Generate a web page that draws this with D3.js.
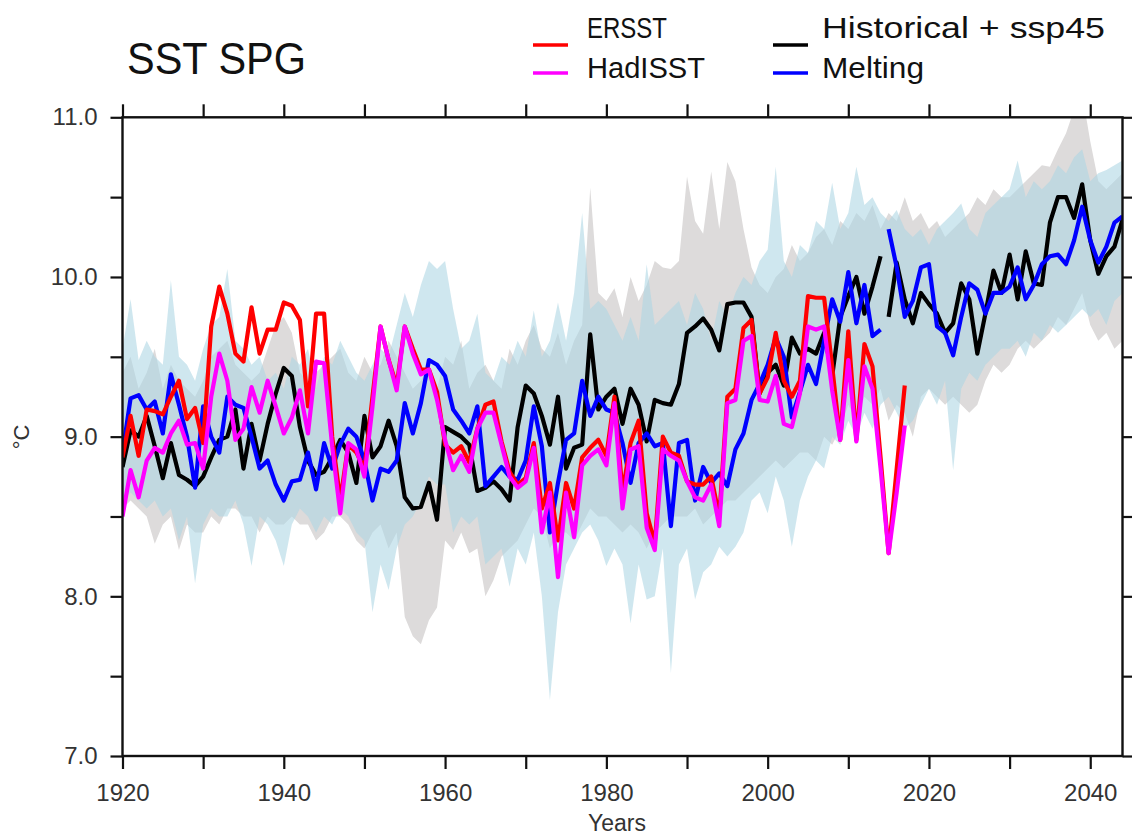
<!DOCTYPE html>
<html><head><meta charset="utf-8">
<script src="https://cdn.jsdelivr.net/npm/d3@7"></script>
<style>
body{margin:0;background:#fff}
svg{display:block}
text{font-family:"Liberation Sans",Arial,Helvetica,sans-serif}
</style>
</head><body>
<svg id="c" width="1132" height="835"></svg>
<script>
// ---------- data ----------
const startYear = 1920;
const endYear = 2044;
const xTicks = [1920,1930,1940,1950,1960,1970,1980,1990,2000,2010,2020,2030,2040];
const xLabels = [1920,1940,1960,1980,2000,2020,2040];
const yTicks = [7.0,7.5,8.0,8.5,9.0,9.5,10.0,10.5,11.0];
const yLabels = [7.0,8.0,9.0,10.0,11.0];
const seriesNames = ["ERSST","HadISST","Historical + ssp45","Melting"];

// ERSST 1920-2017
const ersst = [8.87,9.13,8.88,9.17,9.16,9.14,9.25,9.35,9.11,9.18,
8.96,9.69,9.94,9.77,9.52,9.47,9.81,9.52,9.67,9.67,
9.84,9.82,9.73,9.19,9.77,9.77,9.0,8.6,8.95,8.9,
8.8,9.25,9.69,9.48,9.32,9.69,9.55,9.42,9.42,9.28,
8.95,8.9,8.94,8.84,9.05,9.2,9.22,8.97,8.78,8.7,
8.74,8.96,8.55,8.71,8.35,8.71,8.55,8.87,8.93,8.98,
8.88,9.25,8.65,8.96,9.1,8.52,8.33,9.0,8.9,8.88,
8.72,8.7,8.7,8.75,8.5,9.25,9.3,9.68,9.73,9.27,
9.37,9.65,9.35,9.25,9.35,9.88,9.87,9.87,9.44,8.98,
9.66,8.98,9.58,9.44,8.87,8.27,8.8,9.32];
// HadISST 1920-2017
const hadisst = [8.5,8.79,8.62,8.85,8.93,8.9,9.02,9.1,8.95,8.96,
8.8,9.25,9.52,9.35,8.98,9.05,9.31,9.15,9.35,9.19,
9.02,9.12,9.29,9.02,9.47,9.46,8.94,8.52,8.96,8.92,
8.75,9.19,9.69,9.48,9.29,9.69,9.52,9.39,9.42,9.23,
8.98,8.79,8.88,8.78,9.05,9.15,9.15,8.95,8.75,8.68,
8.72,8.93,8.4,8.65,8.12,8.65,8.37,8.82,8.88,8.92,
8.82,9.21,8.55,8.92,8.94,8.43,8.29,8.92,8.88,8.85,
8.72,8.62,8.6,8.7,8.44,9.21,9.23,9.6,9.63,9.23,
9.22,9.38,9.08,9.06,9.27,9.69,9.67,9.69,9.29,8.98,
9.48,8.97,9.44,9.3,8.8,8.27,8.65,9.07];
// Historical 1920-2014
const histA = [8.81,9.04,9.0,9.13,8.94,8.74,8.96,8.76,8.73,8.69,
8.75,8.87,8.98,9.0,9.17,8.8,9.08,8.85,9.08,9.27,
9.43,9.38,9.06,8.85,8.76,8.78,8.87,8.98,8.9,8.71,
9.13,8.87,8.94,9.1,8.94,8.62,8.55,8.56,8.71,8.48,
9.06,9.03,9.0,8.95,8.66,8.68,8.72,8.67,8.6,9.06,
9.32,9.27,9.13,8.95,9.25,8.8,8.93,8.95,9.64,9.17,
9.25,9.3,9.08,9.3,9.2,8.97,9.23,9.21,9.2,9.33,
9.65,9.69,9.74,9.67,9.54,9.83,9.84,9.84,9.75,9.27,
9.4,9.45,9.32,9.62,9.52,9.55,9.52,9.65,9.38,9.75,
9.88,10.0,9.77,9.94,10.13];
// ssp45 2015-2044
const histB = [9.75,10.09,9.86,9.71,9.9,9.83,9.77,9.65,9.71,9.96,
9.86,9.52,9.77,10.04,9.9,10.14,9.86,10.16,9.96,9.95,
10.34,10.5,10.5,10.37,10.58,10.23,10.02,10.13,10.19,10.36];
// Melting 1920-2014
const meltA = [8.9,9.24,9.26,9.17,9.22,9.02,9.39,9.2,9.0,8.68,
9.19,9.0,8.9,9.25,9.2,9.18,9.0,8.8,8.85,8.7,
8.6,8.72,8.73,8.9,8.67,8.96,8.8,8.95,9.05,9.0,
8.85,8.6,8.8,8.78,8.85,9.21,9.02,9.21,9.48,9.45,
9.38,9.17,9.1,9.02,9.19,8.69,8.75,8.81,8.75,8.73,
8.85,9.19,8.94,8.4,8.71,8.98,9.02,9.35,9.13,9.25,
9.17,9.15,8.96,8.71,8.96,9.02,8.94,8.96,8.44,8.96,
8.98,8.6,8.81,8.71,8.77,8.69,8.92,9.02,9.23,9.33,
9.45,9.62,9.5,9.12,9.28,9.45,9.33,9.6,9.86,9.72,
10.03,9.71,9.95,9.63,9.67];
// Melting 2015-2044
const meltB = [10.3,10.06,9.75,9.85,10.06,10.08,9.69,9.65,9.51,9.75,
9.96,9.92,9.77,9.9,9.9,9.94,10.06,9.86,9.95,10.08,
10.13,10.14,10.08,10.23,10.44,10.23,10.09,10.19,10.34,10.38];

// spread bands 1920-2044
const grayHi = [9.4,9.5,9.3,9.4,9.55,9.3,9.45,9.35,9.3,9.25,
9.35,9.5,9.55,9.6,9.45,9.4,9.35,9.4,9.55,9.7,
9.75,9.65,9.4,9.35,9.4,9.45,9.5,9.55,9.4,9.35,
9.5,9.4,9.45,9.6,9.5,9.4,9.3,9.35,9.45,9.3,
9.5,9.45,9.6,9.3,9.4,9.45,9.35,9.3,9.55,9.45,
9.6,9.7,9.55,9.5,9.65,9.45,9.6,9.7,10.56,9.9,
9.85,9.93,9.75,10.0,9.85,9.95,10.1,10.06,10.05,10.1,
10.63,10.35,10.27,10.66,10.3,10.72,10.6,10.3,10.06,9.95,
9.9,10.0,10.05,10.2,10.1,10.15,10.25,10.3,10.2,10.35,
10.3,10.4,10.35,10.45,10.3,10.4,10.35,10.5,10.35,10.4,
10.3,10.35,10.25,10.3,10.35,10.4,10.5,10.45,10.55,10.5,
10.5,10.55,10.6,10.65,10.7,10.69,10.8,10.9,11.05,11.15,
10.85,10.6,10.55,10.6,10.65];
const grayLo = [8.55,8.6,8.55,8.5,8.33,8.45,8.5,8.29,8.45,8.4,
8.4,8.5,8.45,8.55,8.55,8.5,8.5,8.4,8.5,8.45,
8.45,8.5,8.45,8.45,8.35,8.4,8.5,8.5,8.45,8.35,
8.3,8.4,8.45,8.3,8.4,7.87,7.75,7.7,7.85,7.93,
8.35,8.29,8.4,8.27,8.3,8.0,8.1,8.25,8.3,8.35,
8.45,8.55,8.5,8.3,8.4,8.4,8.35,8.45,8.55,8.5,
8.5,8.45,8.4,8.45,8.4,8.3,8.4,8.45,8.5,8.5,
8.5,8.55,8.45,8.5,8.55,8.6,8.6,8.65,8.7,8.75,
8.8,8.85,8.8,8.85,8.9,8.9,8.85,9.0,8.95,9.05,
9.2,9.1,9.25,9.2,9.3,9.1,9.2,9.15,9.0,9.25,
9.3,9.25,9.2,9.25,9.2,9.15,9.2,9.35,9.45,9.4,
9.45,9.55,9.6,9.55,9.6,9.65,9.75,9.7,9.8,9.9,
9.7,9.6,9.65,9.55,9.6];
const blueHi = [9.55,9.86,9.48,9.6,9.5,9.45,9.98,9.5,9.45,9.35,
9.55,9.7,9.75,10.05,9.6,9.55,9.45,9.5,9.35,9.4,
9.3,9.5,9.45,9.55,9.3,9.5,9.45,9.6,9.5,9.4,
9.35,9.45,9.55,9.5,9.7,9.9,9.75,9.95,10.1,10.05,
10.1,9.8,9.55,9.6,9.77,9.4,9.35,9.5,9.45,9.6,
9.5,9.79,9.5,9.6,9.84,9.6,9.9,10.4,9.8,9.85,
9.8,9.7,9.6,9.75,9.6,10.08,9.7,9.75,9.8,9.85,
9.7,9.9,9.8,9.6,9.85,9.75,9.9,10.0,9.95,10.1,
10.17,10.69,10.1,10.0,10.2,10.15,10.35,10.3,10.59,10.3,
10.4,10.69,10.45,10.5,10.4,10.35,10.42,10.3,10.25,10.3,
10.2,10.3,10.35,10.4,10.46,10.3,10.25,10.4,10.45,10.5,
10.55,10.73,10.5,10.6,10.55,10.6,10.7,10.65,10.75,10.8,
10.6,10.65,10.67,10.7,10.73];
const blueLo = [8.6,8.65,8.6,8.55,8.6,8.5,8.55,8.35,8.5,8.08,
8.45,8.55,8.5,8.5,8.6,8.45,8.19,8.5,8.45,8.35,
8.19,8.45,8.55,8.5,8.4,8.5,8.45,8.55,8.5,8.4,
8.35,7.9,8.2,8.04,8.3,8.45,8.5,8.6,8.75,8.7,
8.7,8.4,8.5,8.45,8.5,8.2,8.25,8.3,8.06,8.3,
8.2,8.4,8.0,7.35,7.9,8.2,8.3,8.4,8.45,8.35,
8.19,8.3,8.2,7.83,8.2,7.98,8.0,8.3,7.52,8.2,
8.3,7.98,8.15,8.2,8.31,8.25,8.31,8.4,8.6,8.65,
8.52,8.75,8.6,8.31,8.6,8.75,8.85,8.8,9.0,8.95,
9.1,9.0,9.15,9.05,9.2,9.25,9.15,9.05,9.1,9.2,
9.3,9.2,9.35,8.79,9.3,9.4,9.35,9.45,9.5,9.55,
9.55,9.6,9.5,9.65,9.6,9.7,9.65,9.7,9.75,9.8,
9.75,9.8,9.7,9.85,9.9];

// ---------- drawing ----------
const svg = d3.select("#c");
const x = d3.scaleLinear().domain([startYear, endYear]).range([122.5, 1122.5]);
const y = d3.scaleLinear().domain([7, 11]).range([756, 117.3]);
const font = '"Liberation Sans",Arial,Helvetica,sans-serif';

svg.append("defs").append("clipPath").attr("id","plot")
  .append("rect").attr("x",x(startYear)).attr("y",y(11))
  .attr("width",x(endYear)-x(startYear)).attr("height",y(7)-y(11));

const years = d3.range(startYear, endYear + 1);
function band(lo, hi){ return years.map((yr,i)=>({yr, lo:lo[i], hi:hi[i]})); }
const area = d3.area().x(d=>x(d.yr)).y0(d=>y(d.lo)).y1(d=>y(d.hi));

const g = svg.append("g").attr("clip-path","url(#plot)");
g.append("path").datum(band(grayLo, grayHi)).attr("d", area)
  .attr("fill","rgb(221,219,219)");
g.append("path").datum(band(blueLo, blueHi)).attr("d", area)
  .attr("fill","rgb(172,214,228)").attr("fill-opacity",0.58);

function series(vals, y0){ return vals.map((v,i)=>({yr:y0+i, v})); }
const line = d3.line().x(d=>x(d.yr)).y(d=>y(d.v));
const lines = [
  {d:series(histA,1920), c:"#000000"},
  {d:series(histB,2015), c:"#000000"},
  {d:series(meltA,1920), c:"#0000ff"},
  {d:series(meltB,2015), c:"#0000ff"},
  {d:series(ersst,1920), c:"#ff0000"},
  {d:series(hadisst,1920), c:"#ff00ff"}
];
lines.forEach(s=>{
  g.append("path").datum(s.d).attr("d", line)
   .attr("fill","none").attr("stroke", s.c).attr("stroke-width",4.2)
   .attr("stroke-linejoin","round");
});

// axes
const axisColor = "#111";
function styleAxis(sel, withLabels){
  sel.select(".domain").remove();
  sel.selectAll(".tick line").attr("stroke",axisColor).attr("stroke-width",2.2);
  sel.selectAll(".tick text").attr("fill","#333").attr("font-size",24).attr("font-family",font);
  if(!withLabels) sel.selectAll(".tick text").remove();
}
svg.append("g").attr("transform",`translate(0,${y(7)})`)
  .call(d3.axisBottom(x).tickValues(xTicks).tickSize(13).tickPadding(15)
    .tickFormat(d=> xLabels.includes(d) ? String(d) : ""))
  .call(s=>styleAxis(s,true));
svg.append("g").attr("transform",`translate(0,${y(11)})`)
  .call(d3.axisTop(x).tickValues(xTicks).tickSize(13))
  .call(s=>styleAxis(s,false));
svg.append("g").attr("transform",`translate(${x(startYear)},0)`)
  .call(d3.axisLeft(y).tickValues(yTicks).tickSize(12).tickPadding(13)
    .tickFormat(d=> yLabels.includes(d) ? d3.format(".1f")(d) : ""))
  .call(s=>styleAxis(s,true));
svg.append("g").attr("transform",`translate(${x(endYear)},0)`)
  .call(d3.axisRight(y).tickValues(yTicks).tickSize(12))
  .call(s=>styleAxis(s,false));

svg.append("rect").attr("x",x(startYear)).attr("y",y(11))
  .attr("width",x(endYear)-x(startYear)).attr("height",y(7)-y(11))
  .attr("fill","none").attr("stroke",axisColor).attr("stroke-width",2.4);

// axis titles
svg.append("text").attr("x",617).attr("y",831).attr("text-anchor","middle")
  .attr("font-size",23).attr("fill","#333").text("Years");
svg.append("text").attr("transform","translate(29,437) rotate(-90)")
  .attr("text-anchor","middle").attr("font-size",22).attr("fill","#333").text("°C");

// title
svg.append("text").attr("x",127).attr("y",74).attr("font-size",44)
  .attr("textLength",179).attr("lengthAdjust","spacingAndGlyphs")
  .attr("fill","#111").text("SST SPG");

// legend
const legend = [
  {name:seriesNames[0], c:"#ff0000", lx:533, tx:587, ly:45, ty:38, w:80},
  {name:seriesNames[1], c:"#ff00ff", lx:533, tx:587, ly:73, ty:78, w:118},
  {name:seriesNames[2], c:"#000000", lx:773, tx:822, ly:45, ty:38, w:283},
  {name:seriesNames[3], c:"#0000ff", lx:773, tx:822, ly:73, ty:78, w:102}
];
legend.forEach(l=>{
  svg.append("line").attr("x1",l.lx).attr("x2",l.lx+35).attr("y1",l.ly).attr("y2",l.ly)
    .attr("stroke",l.c).attr("stroke-width",3.6);
  svg.append("text").attr("x",l.tx).attr("y",l.ty).attr("font-size",29)
    .attr("textLength",l.w).attr("lengthAdjust","spacingAndGlyphs")
    .attr("fill","#111").text(l.name);
});
</script>
</body></html>
